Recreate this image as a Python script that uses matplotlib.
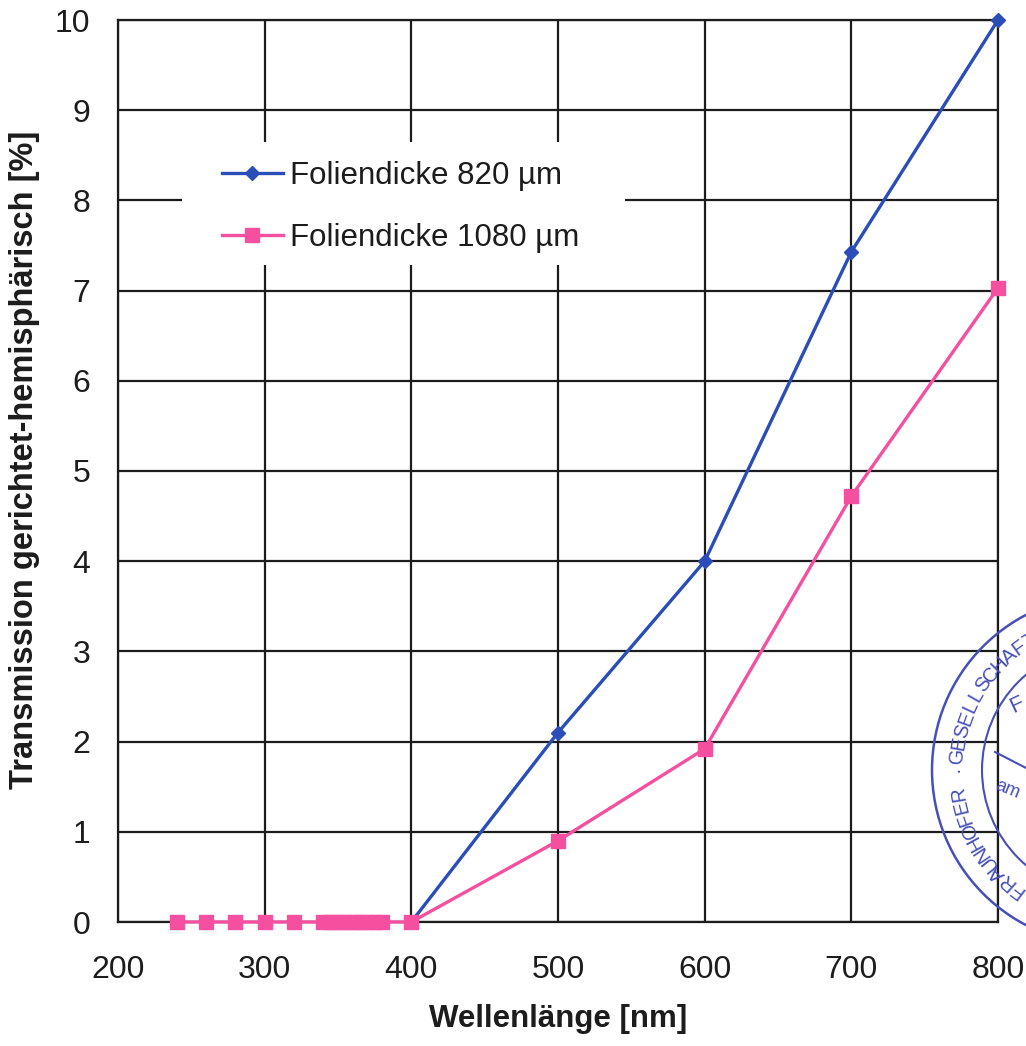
import matplotlib
matplotlib.use("Agg")
import matplotlib.pyplot as plt
from matplotlib.patches import Rectangle, Circle
import numpy as np

# data
wl_820 = [400, 500, 600, 700, 800]
tr_820 = [0.0, 2.1, 4.0, 7.43, 10.0]

wl_1080 = [240, 260, 280, 300, 320, 340, 345, 350, 355, 360, 365, 370, 375, 380,
           400, 500, 600, 700, 800]
tr_1080 = [0, 0, 0, 0, 0, 0, 0, 0, 0, 0, 0, 0, 0, 0,
           0.0, 0.9, 1.92, 4.72, 7.03]

x_ticks = [200, 300, 400, 500, 600, 700, 800]
y_ticks = list(range(0, 11))

BLUE = "#2a4db8"
PINK = "#f5509f"
INK = "#1c1c1c"

plt.rcParams['font.family'] = ['Liberation Sans', 'DejaVu Sans']

W, H = 1026, 1046
fig = plt.figure(figsize=(W / 100, H / 100), dpi=100)
ax = fig.add_axes([118 / W, 1 - 922 / H, 880 / W, 902 / H])

ax.set_axisbelow(True)
ax.grid(True, color=INK, linewidth=1.6)
for s in ax.spines.values():
    s.set_color(INK)
    s.set_linewidth(1.6)

ax.plot(wl_820, tr_820, color=BLUE, lw=2.4, marker="D", ms=7,
        label="Foliendicke 820 µm", zorder=3, clip_on=False)
ax.plot(wl_1080, tr_1080, color=PINK, lw=2.4, marker="s", ms=10.5,
        label="Foliendicke 1080 µm", zorder=4, clip_on=False)

ax.set_xlim(200, 800)
ax.set_ylim(0, 10)
ax.set_xticks(x_ticks)
ax.set_yticks(y_ticks)
ax.tick_params(length=0, labelsize=23, colors=INK)
ax.tick_params(axis='y', pad=20)
ax.tick_params(axis='x', pad=24)

ax.set_xlabel("Wellenlänge [nm]", fontsize=22.5, fontweight="bold", color=INK)
ax.set_ylabel("Transmission gerichtet-hemisphärisch [%]", fontsize=23.5,
              fontweight="bold", color=INK)
ax.xaxis.label.set_va("center")
ax.yaxis.label.set_va("center")
ax.xaxis.set_label_coords(0.5, (922 - 1019) / 902)
ax.yaxis.set_label_coords((25 - 118) / 880, 0.512)

# white patch behind the legend, hides the grid there
ax.add_patch(Rectangle((64 / 880, (922 - 265) / 902), 443 / 880, 123 / 902,
                       transform=ax.transAxes, facecolor="white",
                       edgecolor="none", zorder=2))
leg = ax.legend(loc="center left", bbox_to_anchor=(104 / 880, (922 - 207) / 902),
                frameon=False, fontsize=22.5, handlelength=1.95,
                handletextpad=0.22, labelspacing=1.05, borderpad=0,
                borderaxespad=0)
leg.set_zorder(5)
for t in leg.get_texts():
    t.set_color(INK)

# the stamp at the right edge of the scan
ov = fig.add_axes([0, 0, 1, 1], facecolor="none")
ov.set_xlim(0, W)
ov.set_ylim(H, 0)
ov.axis("off")
STAMP = "#4650b8"
cx, cy = 1107, 770
ov.add_patch(Circle((cx, cy), 175, fill=False, ec=STAMP, lw=1.8))
ov.add_patch(Circle((cx, cy), 125, fill=False, ec=STAMP, lw=1.5))
word = "FRAUNHOFER ·GESELLSCHAFT"
for ch, ang in zip(word, np.linspace(233, 121, len(word))):
    a = np.radians(ang)
    ov.text(cx + 150 * np.cos(a), cy - 150 * np.sin(a), ch, fontsize=14.5,
            color=STAMP, rotation=ang - 90, ha="center", va="center")
ov.text(1017, 705, "F", fontsize=16, color=STAMP, rotation=25,
        ha="center", va="center")
ov.text(1008, 790, "am", fontsize=13, color=STAMP, rotation=-22,
        ha="center", va="center")
ov.plot([995, 1030], [752, 770], color=STAMP, lw=1.5)

fig.savefig("out.png", dpi=100)
